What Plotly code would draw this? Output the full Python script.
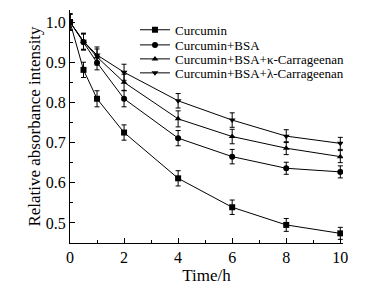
import plotly.graph_objects as go

time_h = [0, 0.5, 1, 2, 4, 6, 8, 10]
names = ["Curcumin", "Curcumin+BSA", "Curcumin+BSA+\u03ba-Carrageenan", "Curcumin+BSA+\u03bb-Carrageenan"]
curcumin = [1.0, 0.881, 0.809, 0.725, 0.611, 0.539, 0.495, 0.474]
curcumin_bsa = [1.0, 0.950, 0.899, 0.809, 0.711, 0.665, 0.636, 0.627]
curcumin_bsa_kappa = [1.0, 0.952, 0.913, 0.850, 0.759, 0.715, 0.686, 0.665]
curcumin_bsa_lambda = [1.0, 0.952, 0.918, 0.875, 0.804, 0.756, 0.716, 0.698]
err_curcumin = [0.02, 0.019, 0.02, 0.019, 0.019, 0.018, 0.016, 0.015]
err_bsa = [0.02, 0.02, 0.018, 0.02, 0.019, 0.018, 0.015, 0.015]
err_kappa = [0.02, 0.02, 0.02, 0.02, 0.02, 0.018, 0.016, 0.015]
err_lambda = [0.02, 0.02, 0.02, 0.02, 0.018, 0.018, 0.016, 0.015]

series = [curcumin, curcumin_bsa, curcumin_bsa_kappa, curcumin_bsa_lambda]
errors = [err_curcumin, err_bsa, err_kappa, err_lambda]
symbols = ["square", "circle", "triangle-up", "triangle-down"]
legend_ids = ["legend", "legend2", "legend3", "legend4"]
legend_rows = [0.915, 0.850, 0.790, 0.730]

FONT = "Liberation Serif, Times New Roman, serif"
fig = go.Figure()
for name, ys, es, sym, lid in zip(names, series, errors, symbols, legend_ids):
    fig.add_trace(go.Scatter(
        x=time_h, y=ys, name=name, mode="lines+markers", legend=lid,
        line=dict(color="black", width=1),
        marker=dict(symbol=sym, size=6, color="black"),
        error_y=dict(type="data", array=es, visible=True, color="black", thickness=1, width=2.5),
    ))

legend_style = dict(x=0.238, xanchor="left", yanchor="middle",
                    font=dict(family=FONT, size=13, color="black"),
                    bgcolor="rgba(0,0,0,0)", itemwidth=30)
layout_legends = {lid: dict(legend_style, y=yr) for lid, yr in zip(legend_ids, legend_rows)}

fig.update_layout(
    width=388, height=289,
    margin=dict(l=62, r=53, t=2, b=54, autoexpand=False),
    paper_bgcolor="white", plot_bgcolor="white",
    font=dict(family=FONT, color="black", size=16),
    showlegend=True,
    xaxis=dict(range=[0, 10.1], showline=True, linecolor="black", linewidth=1,
               showgrid=False, zeroline=False, ticks="inside", ticklen=5,
               tickcolor="black", dtick=2, tick0=0, automargin=False,
               minor=dict(ticks="inside", ticklen=3, dtick=1, tickcolor="black", showgrid=False),
               title=dict(text="Time/h", font=dict(size=17), standoff=0),
               tickfont=dict(size=16)),
    yaxis=dict(range=[0.45, 1.03], showline=True, linecolor="black", linewidth=1,
               showgrid=False, zeroline=False, ticks="inside", ticklen=5,
               tickcolor="black", dtick=0.1, tick0=0.5, tickformat=".1f", automargin=False,
               minor=dict(ticks="inside", ticklen=3, dtick=0.05, tickcolor="black", showgrid=False),
               title=dict(text="Relative absorbance intensity", font=dict(size=17), standoff=0),
               tickfont=dict(size=16)),
    **layout_legends,
)
fig.write_html("out.html")
